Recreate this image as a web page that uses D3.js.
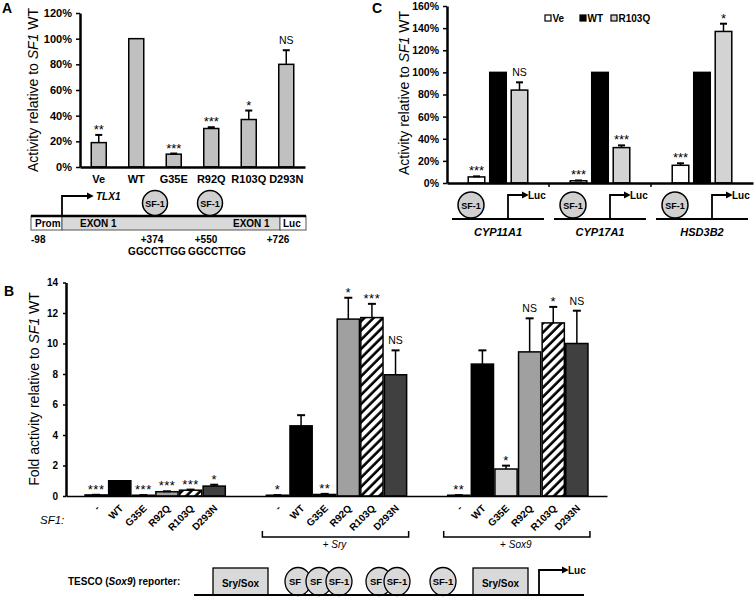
<!DOCTYPE html>
<html><head><meta charset="utf-8">
<script src="https://cdn.jsdelivr.net/npm/d3@7"></script>
<style>
body{margin:0;background:#fff}
svg{display:block}
text{font-family:"Liberation Sans",Arial,Helvetica,sans-serif;fill:#000}
</style>
</head><body><svg id="c" width="756" height="600"></svg>
<script>
// ---------- DATA ----------
// Panel A
const aCats = ["Ve","WT","G35E","R92Q","R103Q","D293N"];
const aVals = [19,100,10,30,37,80];
const aErrTop = [25,null,10.5,31,44,91];
const aSig = ["**","","***","***","*","NS"];
const aTicks = [0,20,40,60,80,100,120];

// Panel B
const bGroups = ["none","Sry","Sox9"];
const bGroupLabels = ["","Sry","Sox9"];
const bCats = ["-","WT","G35E","R92Q","R103Q","D293N"];
const bVals = [
  [0.07,1.0,0.05,0.28,0.38,0.65],
  [0.05,4.6,0.1,11.6,11.7,7.95],
  [0.05,8.65,1.77,9.45,11.35,10.0]
];
const bErrTop = [
  [0.08,null,0.06,0.31,0.42,0.74],
  [0.06,5.3,0.14,13.0,12.6,9.55],
  [0.06,9.55,1.99,11.65,12.4,12.15]
];
const bSig = [
  ["***","","***","***","***","*"],
  ["*","","**","*","***","NS"],
  ["**","","*","NS","*","NS"]
];
const bTicks = [0,2,4,6,8,10,12,14];

// Panel C
const cGenes = ["CYP11A1","CYP17A1","HSD3B2"];
const cSeries = ["Ve","WT","R103Q"];
const cVals = [[5.5,100,84],[2,100,32],[16,100,137]];
const cErrTop = [[6,null,91],[2.3,null,34],[17.8,null,144]];
const cSig = [["***","","NS"],["***","","***"],["***","","*"]];
const cTicks = [0,20,40,60,80,100,120,140,160];

// ---------- DRAW ----------
const svg = d3.select("#c");
const defs = svg.append("defs");
const pat = defs.append("pattern").attr("id","hatch").attr("patternUnits","userSpaceOnUse")
  .attr("width",6.5).attr("height",6.5).attr("patternTransform","rotate(45)");
pat.append("rect").attr("width",6.5).attr("height",6.5).attr("fill","#fff");
pat.append("line").attr("x1",1.5).attr("y1",0).attr("x2",1.5).attr("y2",6.5).attr("stroke","#000").attr("stroke-width",2.6);
defs.append("marker").attr("id","arr").attr("viewBox","0 0 10 10").attr("refX",2).attr("refY",5)
  .attr("markerWidth",4).attr("markerHeight",4).attr("orient","auto")
  .append("path").attr("d","M0,0L10,5L0,10Z").attr("fill","#000");

function styleAxis(g, fs){
  g.select(".domain").attr("stroke","#000").attr("stroke-width",2.5);
  g.selectAll(".tick line").attr("stroke","#000").attr("stroke-width",1.5);
  g.selectAll(".tick text").attr("font-size",fs).attr("font-weight","bold").attr("fill","#000");
}
function sigText(g, x, yTop, s, small){
  if(!s) return;
  if(s==="NS"){
    g.append("text").attr("x",x).attr("y",yTop-6).attr("text-anchor","middle")
      .attr("font-size",10.5).text("NS");
  } else {
    g.append("text").attr("x",x).attr("y",yTop-1).attr("text-anchor","middle")
      .attr("font-size",13).attr("letter-spacing",small?0.5:0).text(s);
  }
}
function errBar(g, x, y0, y1, cap){
  g.append("line").attr("x1",x).attr("x2",x).attr("y1",y0).attr("y2",y1).attr("stroke","#000").attr("stroke-width",1.5);
  g.append("line").attr("x1",x-cap/2).attr("x2",x+cap/2).attr("y1",y1).attr("y2",y1).attr("stroke","#000").attr("stroke-width",2);
}
function yTitle(x, y, pre, ital, post){
  const t = svg.append("text").attr("transform",`translate(${x},${y}) rotate(-90)`)
    .attr("text-anchor","middle").attr("font-size",14);
  t.append("tspan").text(pre);
  t.append("tspan").attr("font-style","italic").text(ital);
  t.append("tspan").text(post);
}
function panelLabel(x,y,s){
  svg.append("text").attr("x",x).attr("y",y).attr("font-size",14).attr("font-weight","bold").text(s);
}

// ===== Panel A =====
panelLabel(2,13,"A");
const ax = d3.scaleBand().domain(aCats).range([80,305]).paddingInner(0.6).paddingOuter(0.3);
const ay = d3.scaleLinear().domain([0,120]).range([167,13]);
const gA = svg.append("g");
gA.selectAll("rect.bar").data(aCats).join("rect").attr("class","bar")
  .attr("x",d=>ax(d)).attr("width",ax.bandwidth())
  .attr("y",(d,i)=>ay(aVals[i])).attr("height",(d,i)=>ay(0)-ay(aVals[i]))
  .attr("fill","#c0c0c0").attr("stroke","#000").attr("stroke-width",1.5);
aCats.forEach((c,i)=>{
  const cx = ax(c)+ax.bandwidth()/2;
  let top = ay(aVals[i]);
  if(aErrTop[i]!=null){ errBar(gA,cx,ay(aVals[i]),ay(aErrTop[i]),7); top = ay(aErrTop[i]); }
  sigText(gA,cx,top,aSig[i]);
});
const gAy = gA.append("g").attr("transform","translate(80,0)")
  .call(d3.axisLeft(ay).tickValues(aTicks).tickFormat(d=>d+"%").tickSize(4).tickPadding(4).tickSizeOuter(0));
styleAxis(gAy,11);
const gAx = gA.append("g").attr("transform","translate(0,167)")
  .call(d3.axisBottom(ax).tickSize(0).tickPadding(8).tickSizeOuter(0));
styleAxis(gAx,11);
yTitle(38,90,"Activity relative to ","SF1"," WT");

// Panel A diagram
const dA = svg.append("g");
dA.append("rect").attr("x",31).attr("y",216).attr("width",31).attr("height",14).attr("fill","#fff").attr("stroke","#555").attr("stroke-width",1);
dA.append("rect").attr("x",62).attr("y",216).attr("width",218).attr("height",14).attr("fill","#d9d9d9").attr("stroke","#555").attr("stroke-width",1);
dA.append("rect").attr("x",280).attr("y",216).attr("width",26).attr("height",14).attr("fill","#fff").attr("stroke","#555").attr("stroke-width",1);
dA.append("line").attr("x1",31).attr("x2",306).attr("y1",216).attr("y2",216).attr("stroke","#000").attr("stroke-width",2.5);
dA.append("path").attr("d","M62,216V196H88").attr("fill","none").attr("stroke","#000").attr("stroke-width",1.8).attr("marker-end","url(#arr)");
dA.append("text").attr("x",96).attr("y",200).attr("font-size",10).attr("font-weight","bold").attr("font-style","italic").text("TLX1");
[155,210].forEach(cx=>{
  dA.append("circle").attr("cx",cx).attr("cy",203).attr("r",12.5).attr("fill","#d0d0d0").attr("stroke","#000").attr("stroke-width",1.5);
  dA.append("text").attr("x",cx).attr("y",206.5).attr("text-anchor","middle").attr("font-size",9).attr("font-weight","bold").text("SF-1");
});
const dAtext = [["Prom",35,227,"start"],["EXON 1",80,227,"start"],["EXON 1",233,227,"start"],["Luc",283,227,"start"],
  ["-98",31,243,"start"],["+374",152,243,"middle"],["+550",206,243,"middle"],["+726",278,243,"middle"],
  ["GGCCTTGG",157,255,"middle"],["GGCCTTGG",217,255,"middle"]];
dAtext.forEach(t=>dA.append("text").attr("x",t[1]).attr("y",t[2]).attr("text-anchor",t[3]).attr("font-size",10).attr("font-weight","bold").text(t[0]));

// ===== Panel C =====
panelLabel(372,13,"C");
const cx0 = d3.scaleBand().domain(cGenes).range([447,753]);
const cx1 = d3.scaleBand().domain(cSeries).range([-32.25,32.25]).paddingInner(0.23).paddingOuter(0.115);
const cy = d3.scaleLinear().domain([0,160]).range([183,6]);
const cFill = {"Ve":"#fff","WT":"#000","R103Q":"#d3d3d3"};
const gC = svg.append("g");
cGenes.forEach((g,gi)=>{
  const gc = cx0(g)+cx0.bandwidth()/2;
  cSeries.forEach((s,si)=>{
    const x = gc+cx1(s);
    const v = cVals[gi][si];
    gC.append("rect").attr("x",x).attr("width",cx1.bandwidth()).attr("y",cy(v)).attr("height",cy(0)-cy(v))
      .attr("fill",cFill[s]).attr("stroke","#000").attr("stroke-width",1.5);
    const mx = x+cx1.bandwidth()/2;
    let top = cy(v);
    if(cErrTop[gi][si]!=null){ errBar(gC,mx,cy(v),cy(cErrTop[gi][si]),7); top = cy(cErrTop[gi][si]); }
    sigText(gC,mx,top,cSig[gi][si]);
  });
});
const gCy = gC.append("g").attr("transform","translate(447,0)")
  .call(d3.axisLeft(cy).tickValues(cTicks).tickFormat(d=>d+"%").tickSize(4).tickPadding(4).tickSizeOuter(0));
styleAxis(gCy,10.5);
const gCx = gC.append("g").attr("transform","translate(0,183)")
  .call(d3.axisBottom(cx0).tickSize(0).tickFormat("").tickSizeOuter(0));
styleAxis(gCx,10);
cGenes.slice(1).forEach(g=>gC.append("line").attr("x1",cx0(g)).attr("x2",cx0(g)).attr("y1",183).attr("y2",187).attr("stroke","#000").attr("stroke-width",1.5));
yTitle(409,93,"Activity relative to ","SF1"," WT");
// legend
const leg = gC.append("g");
[[545,"Ve"],[580,"WT"],[611,"R103Q"]].forEach(([lx,s])=>{
  leg.append("rect").attr("x",lx).attr("y",15).attr("width",6).attr("height",6).attr("fill",cFill[s]).attr("stroke","#000").attr("stroke-width",1.2);
  leg.append("text").attr("x",lx+7.5).attr("y",22).attr("font-size",10).attr("font-weight","bold").text(s);
});
// C diagrams
cGenes.forEach(g=>{
  const gc = cx0(g)+cx0.bandwidth()/2;
  gC.append("line").attr("x1",gc-46).attr("x2",gc+46).attr("y1",219).attr("y2",219).attr("stroke","#000").attr("stroke-width",2);
  gC.append("circle").attr("cx",gc-27).attr("cy",205).attr("r",13).attr("fill","#d0d0d0").attr("stroke","#000").attr("stroke-width",1.5);
  gC.append("text").attr("x",gc-27).attr("y",208.5).attr("text-anchor","middle").attr("font-size",9).attr("font-weight","bold").text("SF-1");
  gC.append("path").attr("d",`M${gc+10},219V195H${gc+25}`).attr("fill","none").attr("stroke","#000").attr("stroke-width",1.8).attr("marker-end","url(#arr)");
  gC.append("text").attr("x",gc+30).attr("y",199).attr("font-size",10).attr("font-weight","bold").text("Luc");
  gC.append("text").attr("x",gc).attr("y",236).attr("text-anchor","middle").attr("font-size",11).attr("font-weight","bold").attr("font-style","italic").text(g);
});

// ===== Panel B =====
panelLabel(4,296,"B");
const bx0 = d3.scaleBand().domain(bGroups).range([66,607]).paddingInner(0.2265).paddingOuter(0.105);
const bx1 = d3.scaleBand().domain(bCats).range([0,bx0.bandwidth()]).paddingInner(0.06);
const by = d3.scaleLinear().domain([0,14]).range([496,282.5]);
const bFill = {"-":"#000","WT":"#000","G35E":"#d4d4d4","R92Q":"#a0a0a0","R103Q":"url(#hatch)","D293N":"#404040"};
const gB = svg.append("g");
bGroups.forEach((g,gi)=>{
  bCats.forEach((c,ci)=>{
    const x = bx0(g)+bx1(c);
    const v = bVals[gi][ci];
    gB.append("rect").attr("x",x).attr("width",bx1.bandwidth()).attr("y",by(v)).attr("height",by(0)-by(v))
      .attr("fill",bFill[c]).attr("stroke","#000").attr("stroke-width",1.5);
    const mx = x+bx1.bandwidth()/2;
    let top = by(v);
    if(bErrTop[gi][ci]!=null){ errBar(gB,mx,by(v),by(bErrTop[gi][ci]),8); top = by(bErrTop[gi][ci]); }
    sigText(gB,mx,top,bSig[gi][ci],true);
    gB.append("text").attr("transform",`translate(${mx+4},${509}) rotate(-45)`).attr("text-anchor","end")
      .attr("font-size",10).attr("font-weight","bold").text(c);
  });
  if(bGroupLabels[gi]){
    const x0 = bx0(g)-4, x1 = bx0(g)+bx0.bandwidth()+2;
    gB.append("path").attr("d",`M${x0},531V537H${x1}V531`).attr("fill","none").attr("stroke","#000").attr("stroke-width",1.5);
    const t = gB.append("text").attr("x",bx0(g)+bx0.bandwidth()/2-2).attr("y",548).attr("text-anchor","middle").attr("font-size",10);
    t.append("tspan").text("+ ");
    t.append("tspan").attr("font-style","italic").text(bGroupLabels[gi]);
  }
});
const gBy = gB.append("g").attr("transform","translate(66,0)")
  .call(d3.axisLeft(by).tickValues(bTicks).tickSize(3).tickPadding(5).tickSizeOuter(0));
styleAxis(gBy,10);
const gBx = gB.append("g").attr("transform","translate(0,496)")
  .call(d3.axisBottom(bx0).tickSize(0).tickFormat("").tickSizeOuter(0));
gBx.select(".domain").attr("stroke","#000").attr("stroke-width",1.5);
yTitle(39,389,"Fold activity relative to ","SF1"," WT");
gB.append("text").attr("x",40).attr("y",524).attr("font-size",11.5).attr("font-style","italic").text("SF1:");

// TESCO diagram
const dB = svg.append("g");
const tt = dB.append("text").attr("x",68).attr("y",585).attr("font-size",10).attr("font-weight","bold");
tt.append("tspan").text("TESCO (");
tt.append("tspan").attr("font-style","italic").text("Sox9");
tt.append("tspan").text(") reporter:");
[[213,"Sry/Sox"],[473,"Sry/Sox"]].forEach(([bx,s])=>{
  dB.append("rect").attr("x",bx).attr("y",568).attr("width",55).attr("height",27).attr("fill","#d9d9d9").attr("stroke","#000").attr("stroke-width",1.3);
  dB.append("text").attr("x",bx+27.5).attr("y",587).attr("text-anchor","middle").attr("font-size",10).attr("font-weight","bold").text(s);
});
const ells = [[298,"SF",-3],[319,"SF",-3],[339,"SF-1",0],[379,"SF",-3],[397,"SF-1",0],[443,"SF-1",0]];
ells.forEach(([ex,s,dx])=>{
  dB.append("ellipse").attr("cx",ex).attr("cy",581.5).attr("rx",13).attr("ry",14).attr("fill","#d9d9d9").attr("stroke","#000").attr("stroke-width",1.3);
  dB.append("text").attr("x",ex+dx).attr("y",585).attr("text-anchor","middle").attr("font-size",9.5).attr("font-weight","bold").text(s);
});
dB.append("line").attr("x1",194).attr("x2",584).attr("y1",595).attr("y2",595).attr("stroke","#000").attr("stroke-width",2);
dB.append("path").attr("d","M539,595V570H563").attr("fill","none").attr("stroke","#000").attr("stroke-width",1.8).attr("marker-end","url(#arr)");
dB.append("text").attr("x",568).attr("y",574).attr("font-size",10).attr("font-weight","bold").text("Luc");
</script></body></html>
